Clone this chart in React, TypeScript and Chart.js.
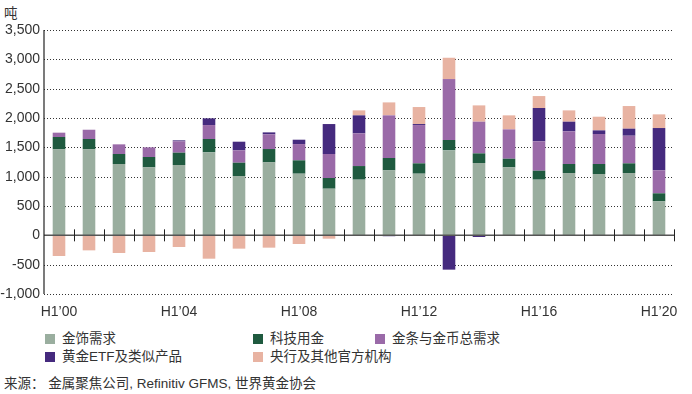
import React, { useEffect, useRef } from "react";
import { Chart, registerables } from "chart.js";

Chart.register(...registerables);

const categories = [
  "H1’00", "H1’01", "H1’02", "H1’03", "H1’04", "H1’05", "H1’06", "H1’07",
  "H1’08", "H1’09", "H1’10", "H1’11", "H1’12", "H1’13", "H1’14", "H1’15",
  "H1’16", "H1’17", "H1’18", "H1’19", "H1’20",
];

const jewellery = [1466, 1466, 1216, 1159, 1198, 1414, 1011, 1244, 1051, 795, 949, 1108, 1051, 1448, 1233, 1159, 949, 1062, 1045, 1062, 579];
const technology = [210, 176, 170, 176, 211, 228, 227, 227, 227, 182, 232, 210, 176, 177, 164, 147, 153, 154, 171, 165, 137];
const barCoin = [74, 158, 165, 165, 193, 238, 210, 250, 278, 409, 557, 727, 653, 1039, 540, 500, 500, 556, 511, 471, 392];
const etfs = [0, 0, 0, 0, 17, 114, 148, 34, 74, 511, 307, -15, 17, -585, -28, 0, 568, 165, 62, 120, 721];
const centralBanks = [-352, -256, -301, -284, -199, -398, -227, -210, -148, -57, 85, 221, 290, 363, 278, 239, 204, 193, 233, 386, 233];

const yTicks = [3500, 3000, 2500, 2000, 1500, 1000, 500, 0, -500, -1000];

const seriesNames = ["金饰需求", "科技用金", "金条与金币总需求", "黄金ETF及类似产品", "央行及其他官方机构"];
const seriesColors = ["#9aae9f", "#1f5a3f", "#9a6aa8", "#452a7e", "#e8b3a2"];

const numFont = "'Liberation Sans Narrow', 'Liberation Sans', Arial, sans-serif";
const cjkFont = "'Liberation Sans Narrow', 'Liberation Sans', 'Noto Sans CJK SC', sans-serif";

const gridPlugin = {
  id: "dottedGrid",
  beforeDatasetsDraw(chart: any) {
    const { ctx, chartArea, scales } = chart;
    ctx.save();
    ctx.strokeStyle = "#333";
    ctx.lineWidth = 1;
    ctx.setLineDash([1, 2]);
    yTicks.forEach((v) => {
      if (v === 0) return;
      const y = Math.round(scales.y.getPixelForValue(v)) + 0.5;
      ctx.beginPath();
      ctx.moveTo(chartArea.left, y);
      ctx.lineTo(chartArea.right, y);
      ctx.stroke();
    });
    ctx.restore();
  },
  afterDatasetsDraw(chart: any) {
    const { ctx, chartArea, scales } = chart;
    const y0 = scales.y.getPixelForValue(0);
    ctx.save();
    ctx.strokeStyle = "#555";
    ctx.lineWidth = 1.5;
    ctx.beginPath();
    ctx.moveTo(chartArea.left, y0);
    ctx.lineTo(chartArea.right, y0);
    ctx.stroke();
    ctx.lineWidth = 1;
    ctx.strokeStyle = "#222";
    const n = categories.length;
    for (let i = 1; i <= n; i++) {
      const x = i < n
        ? (scales.x.getPixelForValue(i - 1) + scales.x.getPixelForValue(i)) / 2
        : chartArea.right;
      const xr = Math.round(x) + 0.5;
      ctx.beginPath();
      ctx.moveTo(xr, y0 - 6);
      ctx.lineTo(xr, y0 + 6);
      ctx.stroke();
    }
    // y axis line
    ctx.strokeStyle = "#222";
    ctx.lineWidth = 1.2;
    ctx.beginPath();
    ctx.moveTo(chartArea.left, chartArea.top);
    ctx.lineTo(chartArea.left, chartArea.bottom);
    ctx.stroke();
    ctx.restore();
  },
};

export default function App() {
  const ref = useRef<HTMLCanvasElement>(null);

  useEffect(() => {
    if (!ref.current) return;
    const data = [jewellery, technology, barCoin, etfs, centralBanks];
    const chart = new Chart(ref.current, {
      type: "bar",
      data: {
        labels: categories,
        datasets: data.map((d, i) => ({
          label: seriesNames[i],
          data: d,
          backgroundColor: seriesColors[i],
          borderWidth: 0,
          barPercentage: 0.42,
          categoryPercentage: 1,
        })),
      },
      options: {
        animation: false,
        responsive: false,
        maintainAspectRatio: false,
        layout: { padding: { top: 30, right: 18, left: 0, bottom: 0 } },
        plugins: {
          legend: { display: false },
          tooltip: { enabled: false },
        },
        scales: {
          x: {
            stacked: true,
            grid: { display: false },
            border: { display: false },
            ticks: {
              autoSkip: false,
              maxRotation: 0,
              minRotation: 0,
              padding: 2,
              color: "#333",
              font: { family: numFont, size: 14 },
              callback: (_v: any, i: number) => (i % 4 === 0 ? categories[i] : ""),
            },
            afterFit: (s: any) => {
              s.height = 31;
            },
          },
          y: {
            stacked: true,
            min: -1000,
            max: 3500,
            afterBuildTicks: (s: any) => {
              s.ticks = yTicks.map((v) => ({ value: v }));
            },
            afterFit: (s: any) => {
              s.width = 44;
            },
            grid: { display: false, drawTicks: false },
            border: { display: false },
            ticks: {
              padding: 4,
              color: "#333",
              font: { family: numFont, size: 14 },
              callback: (v: any) => Number(v).toLocaleString("en-US"),
            },
          },
        },
      },
      plugins: [gridPlugin],
    } as any);
    return () => chart.destroy();
  }, []);

  const legendItem = (i: number, left: number, top: number) => (
    <div
      key={i}
      style={{ position: "absolute", left, top, height: 18, display: "flex", alignItems: "center", whiteSpace: "nowrap" }}
    >
      <span style={{ width: 10, height: 10, background: seriesColors[i], display: "inline-block", marginRight: 7 }} />
      <span style={{ fontSize: 13.5, lineHeight: "18px", color: "#333", fontFamily: cjkFont }}>{seriesNames[i]}</span>
    </div>
  );

  return (
    <div style={{ position: "fixed", left: 0, top: 0, width: 692, height: 394, background: "#fff", overflow: "hidden" }}>
      <div style={{ position: "absolute", left: 4, top: 2, fontSize: 13.5, color: "#333", fontFamily: cjkFont }}>吨</div>
      <canvas ref={ref} width={692} height={325} style={{ position: "absolute", left: 0, top: 0 }} />
      {legendItem(0, 45, 330)}
      {legendItem(1, 253, 330)}
      {legendItem(2, 375, 330)}
      {legendItem(3, 45, 348)}
      {legendItem(4, 253, 348)}
      <div style={{ position: "absolute", left: 4, top: 375, fontSize: 13.5, lineHeight: "18px", color: "#333", fontFamily: cjkFont, whiteSpace: "nowrap" }}>
        来源： 金属聚焦公司, Refinitiv GFMS, 世界黄金协会
      </div>
    </div>
  );
}
